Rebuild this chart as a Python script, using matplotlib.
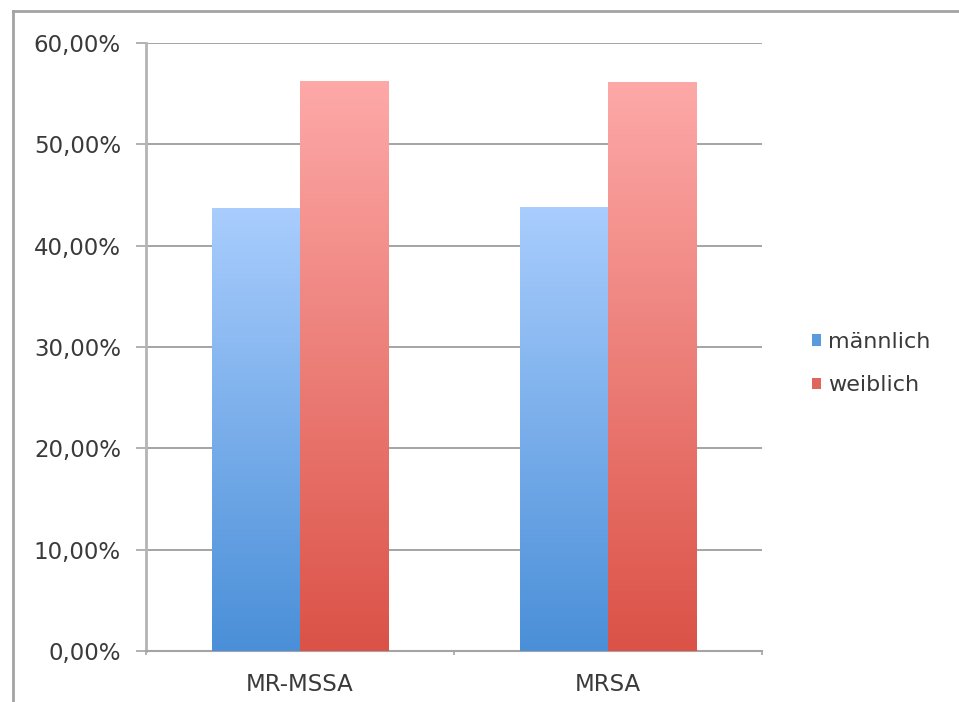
import numpy as np
import matplotlib.pyplot as plt
from matplotlib.colors import LinearSegmentedColormap
from matplotlib.patches import Patch
from matplotlib.lines import Line2D

# data (percent)
categories = ["MR-MSSA", "MRSA"]
maennlich = [43.7, 43.8]
weiblich = [56.2, 56.1]
series_names = ["männlich", "weiblich"]
y_ticks = [0, 10, 20, 30, 40, 50, 60]

plt.rcParams["font.family"] = ["DejaVu Sans"]
text_col = "#3a3a3a"
line_col = "#a4a4a4"

fig = plt.figure(figsize=(9.59, 7.02), dpi=100)
ax = fig.add_axes([0.1522, 0.0726, 0.6424, 0.8661])

# colour gradients (top light -> bottom dark)
blue_cmap = LinearSegmentedColormap.from_list("b", ["#4a8fd8", "#a9cdfd"])
red_cmap = LinearSegmentedColormap.from_list("r", ["#db5247", "#fda9a8"])

x = np.arange(len(categories))
w = 0.286
bars_m = ax.bar(x - w / 2, maennlich, width=w, color="none", zorder=3)
bars_w = ax.bar(x + w / 2, weiblich, width=w, color="none", zorder=3)

grad = np.linspace(0, 1, 256).reshape(-1, 1)
for bars, cmap in [(bars_m, blue_cmap), (bars_w, red_cmap)]:
    for b in bars:
        x0, y0 = b.get_x(), b.get_y()
        ax.imshow(grad, cmap=cmap, origin="lower", aspect="auto",
                  extent=(x0, x0 + b.get_width(), y0, y0 + b.get_height()),
                  zorder=3)

ax.set_xlim(-0.5, 1.5)
ax.set_ylim(0, 60)

# axes styling
for s in ["top", "right"]:
    ax.spines[s].set_visible(False)
ax.spines["left"].set_color("#b4b4b4")
ax.spines["left"].set_linewidth(2)
ax.spines["bottom"].set_color(line_col)
ax.spines["bottom"].set_linewidth(1.5)

ax.set_yticks(y_ticks)
ax.set_yticklabels([f"{v:.2f}%".replace(".", ",") for v in y_ticks])
ax.yaxis.grid(True, color=line_col, linewidth=1.4, zorder=1)
ax.set_axisbelow(True)
ax.tick_params(axis="y", length=7, width=1.2, color=line_col, pad=11,
               labelsize=16.5, labelcolor=text_col)

ax.set_xticks(x)
ax.set_xticklabels(categories)
ax.set_xticks([-0.5, 0.5, 1.5], minor=True)
ax.tick_params(axis="x", which="major", length=0, pad=16,
               labelsize=16.5, labelcolor=text_col)
ax.tick_params(axis="x", which="minor", length=3, width=1.2, color=line_col)

# legend
handles = [Patch(facecolor="#5a9be0"), Patch(facecolor="#e0655c")]
fig.legend(handles, series_names, loc="center left",
           bbox_to_anchor=(0.826, 0.482), frameon=False,
           fontsize=16, labelcolor=text_col, handlelength=0.4,
           handleheight=0.4, handletextpad=0.3, labelspacing=1.05)

# outer frame (top and left lines)
fig.add_artist(Line2D([0.0136, 1.0], [0.984, 0.984], color=line_col,
                      linewidth=2, transform=fig.transFigure))
fig.add_artist(Line2D([0.0136, 0.0136], [0.0, 0.984], color=line_col,
                      linewidth=2, transform=fig.transFigure))

fig.savefig("out.png", dpi=100)
